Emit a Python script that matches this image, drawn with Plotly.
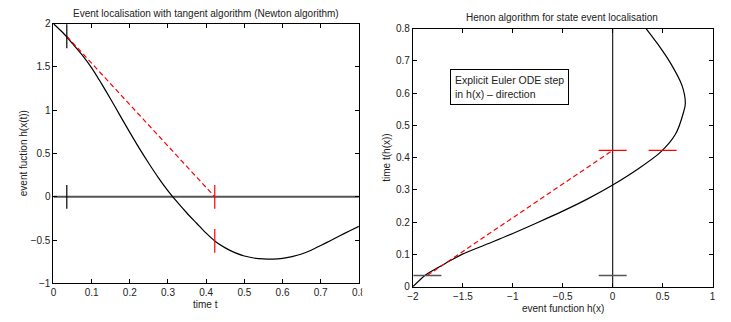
import plotly.graph_objects as go

# ---- data ----
# left panel: h(x(t)) versus time t
t_vals = [0, 0.025, 0.05, 0.075, 0.1, 0.125, 0.15, 0.175, 0.2, 0.225, 0.25, 0.275,
          0.3, 0.325, 0.35, 0.375, 0.4, 0.425, 0.45, 0.475, 0.5, 0.525, 0.55, 0.575,
          0.6, 0.625, 0.65, 0.675, 0.7, 0.725, 0.75, 0.775, 0.8]
h_vals = [2.0, 1.895, 1.77, 1.64, 1.49, 1.314, 1.128, 0.935, 0.745, 0.56, 0.385, 0.22,
          0.07, -0.065, -0.19, -0.305, -0.42, -0.518, -0.59, -0.645, -0.684, -0.707, -0.718, -0.72,
          -0.711, -0.69, -0.66, -0.617, -0.563, -0.507, -0.45, -0.395, -0.34]

# right panel: time t(h(x)) versus event function h(x)
r_h = [-2.0, -1.87, -1.675, -1.51, -1.25, -1.0, -0.75, -0.5, -0.25, 0.0, 0.25, 0.48,
       0.63, 0.712, 0.728, 0.695, 0.581, 0.449, 0.335]
r_t = [0.0, 0.037, 0.072, 0.100, 0.133, 0.165, 0.199, 0.234, 0.272, 0.315, 0.364, 0.417,
       0.473, 0.543, 0.568, 0.623, 0.692, 0.753, 0.8]

t_start = 0.035     # Euler step start time
h_start = 1.855     # h at start
t_new = 0.4225      # time after tangent step
h_new = -0.508      # h at new time (left panel)
h_new_right = 0.5   # h at new time (right panel)
zero_line_t = [0, 0.8]
zero_line_h = [0, 0]

left_xticks = [0, 0.1, 0.2, 0.3, 0.4, 0.5, 0.6, 0.7, 0.8]
left_yticks = [-1, -0.5, 0, 0.5, 1, 1.5, 2]
right_xticks = [-2, -1.5, -1, -0.5, 0, 0.5, 1]
right_yticks = [0, 0.1, 0.2, 0.3, 0.4, 0.5, 0.6, 0.7, 0.8]

W, H = 731, 322
FONT = "Liberation Sans, Arial, sans-serif"
TXT = "#222"

fig = go.Figure()

# ---------- left panel ----------
fig.add_trace(go.Scatter(x=zero_line_t, y=zero_line_h, mode="lines",
                         line=dict(color="#555", width=2), xaxis="x", yaxis="y"))
fig.add_trace(go.Scatter(x=t_vals, y=h_vals, mode="lines",
                         line=dict(color="black", width=1.2, shape="spline", smoothing=0.8),
                         xaxis="x", yaxis="y"))
fig.add_trace(go.Scatter(x=[t_start, t_new], y=[h_start, 0], mode="lines",
                         line=dict(color="red", width=1.2, dash="5px,3px"), xaxis="x", yaxis="y"))
fig.add_trace(go.Scatter(x=[t_start, t_start], y=[h_start, 0], mode="markers",
                         marker=dict(symbol="line-ns-open", size=17, color="black",
                                     line=dict(color="black", width=1.2)),
                         xaxis="x", yaxis="y"))
fig.add_trace(go.Scatter(x=[t_new, t_new], y=[0, h_new], mode="markers",
                         marker=dict(symbol="line-ns-open", size=17, color="red",
                                     line=dict(color="red", width=1.2)),
                         xaxis="x", yaxis="y"))

# ---------- right panel ----------
fig.add_trace(go.Scatter(x=zero_line_h, y=zero_line_t, mode="lines",
                         line=dict(color="#222", width=1.2), xaxis="x2", yaxis="y2"))
fig.add_trace(go.Scatter(x=r_h, y=r_t, mode="lines",
                         line=dict(color="black", width=1.2, shape="spline", smoothing=0.8),
                         xaxis="x2", yaxis="y2"))
fig.add_trace(go.Scatter(x=[-h_start, 0], y=[t_start, t_new], mode="lines",
                         line=dict(color="red", width=1.2, dash="5px,3px"), xaxis="x2", yaxis="y2"))
fig.add_trace(go.Scatter(x=[-h_start, 0], y=[t_start, t_start], mode="markers",
                         marker=dict(symbol="line-ew-open", size=20, color="#555",
                                     line=dict(color="#555", width=1.5)),
                         xaxis="x2", yaxis="y2"))
fig.add_trace(go.Scatter(x=[0, h_new_right], y=[t_new, t_new], mode="markers",
                         marker=dict(symbol="line-ew-open", size=20, color="red",
                                     line=dict(color="red", width=1.2)),
                         xaxis="x2", yaxis="y2"))

axis_common = dict(showline=True, linecolor="black", linewidth=1, mirror="ticks",
                   ticks="inside", ticklen=4, tickcolor="black", showgrid=False,
                   zeroline=False, tickfont=dict(family=FONT, size=10, color=TXT))


def fmt(v):
    return ("\u2212" + str(abs(v))) if v < 0 else str(v)


fig.update_layout(
    width=W, height=H, margin=dict(l=0, r=0, t=0, b=0),
    paper_bgcolor="white", plot_bgcolor="white", showlegend=False,
    xaxis=dict(domain=[48.3 / W, 359.3 / W], range=[0, 0.8], tickvals=left_xticks,
               ticktext=[fmt(v) for v in left_xticks], anchor="y", **axis_common),
    yaxis=dict(domain=[1 - 287.3 / H, 1 - 19.3 / H], range=[-1, 2], tickvals=left_yticks,
               ticktext=[fmt(v) for v in left_yticks], anchor="x", **axis_common),
    xaxis2=dict(domain=[414.3 / W, 719.3 / W], range=[-2, 1], tickvals=right_xticks,
                ticktext=[fmt(v) for v in right_xticks], anchor="y2", **axis_common),
    yaxis2=dict(domain=[1 - 290.7 / H, 1 - 24.3 / H], range=[0, 0.8], tickvals=right_yticks,
                ticktext=[fmt(v) for v in right_yticks], anchor="x2", **axis_common),
)


def px_ann(text, x, y, size=10, angle=0, xanchor="center", yanchor="middle", **kw):
    fig.add_annotation(text=text, xref="paper", yref="paper", x=x / W, y=1 - y / H,
                       xanchor=xanchor, yanchor=yanchor, showarrow=False, textangle=angle,
                       font=dict(family=FONT, size=size, color=TXT), **kw)


px_ann("Event localisation with tangent algorithm (Newton algorithm)", 203.7, 8.5)
px_ann("Henon algorithm for state event localisation", 566.5, 12.7)
px_ann("time t", 203.5, 309.5)
px_ann("event function h(x)", 566.7, 313.5)
px_ann("event fuction h(x(t))", 18, 153.3, angle=-90)
px_ann("time t(h(x))", 388, 157.5, angle=-90)
px_ann("Explicit Euler ODE step<br>in h(x) \u2013 direction", 452.3, 66, size=10.5,
       xanchor="left", yanchor="top", align="left", bordercolor="black", borderwidth=1,
       borderpad=4, bgcolor="white")

# crop of the left figure's last tick label (as in the original image)
fig.add_shape(type="rect", xref="paper", yref="paper", x0=362.7 / W, x1=392 / W,
              y0=0, y1=1 - 288.5 / H, fillcolor="white", line=dict(width=0), layer="above")

fig.write_html("out.html")
